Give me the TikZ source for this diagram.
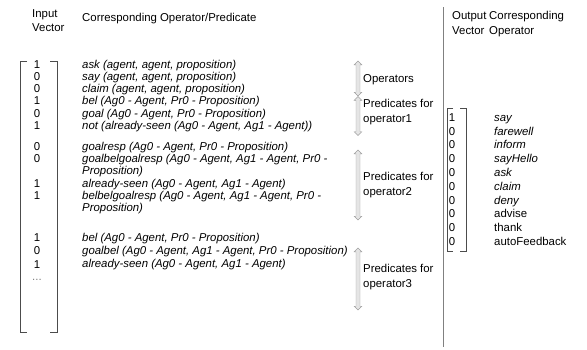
\documentclass[tikz,border=0pt]{standalone}
\usepackage{fontspec}
\setmainfont{Liberation Sans}
\usetikzlibrary{shapes.arrows}

\begin{document}
\begin{tikzpicture}[
    x=1pt, y=-1pt,
    every node/.style={
        inner sep=0pt,
        font=\fontsize{11.4}{14}\selectfont
    },
    head/.style={anchor=base west},
    num/.style={anchor=base},
    pred/.style={anchor=base west, font=\fontsize{11.4}{14}\selectfont\itshape},
    oplabel/.style={anchor=base west},
    updown/.style={
        double arrow, draw=gray!75, fill=gray!20,
        rotate=90, inner sep=1.8pt,
        double arrow head extend=1.8pt
    },
    vecbracket/.style={draw=black!70, line width=0.6pt}
]
\useasboundingbox (0,0) rectangle (587,349);

% headings
\node[head] (hinput) at (32,17) {Input};
\node[head] (hvector) at (32,31.5) {Vector};
\node[head] (hcorr) at (82,21.5) {Corresponding Operator/Predicate};
\node[head] (houtput) at (452,19.5) {Output};
\node[head] (hovector) at (452,34) {Vector};
\node[head] (hocorr) at (489,19.5) {Corresponding};
\node[head] (hoop) at (489,34) {Operator};

% input vector
\draw[vecbracket] (27,61) -- (20,61) -- (20,332) -- (27,332);
\draw[vecbracket] (50,61) -- (57,61) -- (57,332) -- (50,332);

\node[num] (i1) at (37,68.3) {1};
\node[num] (i2) at (37,80.5) {0};
\node[num] (i3) at (37,92.7) {0};
\node[num] (i4) at (37,104.9) {1};
\node[num] (i5) at (37,117.1) {0};
\node[num] (i6) at (37,129.3) {1};
\node[num] (i7) at (37,150.5) {0};
\node[num] (i8) at (37,162.7) {0};
\node[num] (i9) at (37,187.5) {1};
\node[num] (i10) at (37,199.7) {1};
\node[num] (i11) at (37,241.5) {1};
\node[num] (i12) at (37,254) {0};
\node[num] (i13) at (37,268) {1};
\node[num, text=gray] (idots) at (37,280) {...};

% operators and predicates
\node[pred] (p1) at (82,68.3) {ask (agent, agent, proposition)};
\node[pred] (p2) at (82,80.5) {say (agent, agent, proposition)};
\node[pred] (p3) at (82,92.7) {claim (agent, agent, proposition)};
\node[pred] (p4) at (82,104.9) {bel (Ag0 - Agent, Pr0 - Proposition)};
\node[pred] (p5) at (82,117.1) {goal (Ag0 - Agent, Pr0 - Proposition)};
\node[pred] (p6) at (82,129.3) {not (already-seen (Ag0 - Agent, Ag1 - Agent))};
\node[pred] (p7) at (82,150.5) {goalresp (Ag0 - Agent, Pr0 - Proposition)};
\node[pred] (p8) at (82,162.7) {goalbelgoalresp (Ag0 - Agent, Ag1 - Agent, Pr0 -};
\node[pred] (p8b) at (82,174.9) {Proposition)};
\node[pred] (p9) at (82,187.1) {already-seen (Ag0 - Agent, Ag1 - Agent)};
\node[pred] (p10) at (82,199.3) {belbelgoalresp (Ag0 - Agent, Ag1 - Agent, Pr0 -};
\node[pred] (p10b) at (82,211.5) {Proposition)};
\node[pred] (p11) at (82,241.5) {bel (Ag0 - Agent, Pr0 - Proposition)};
\node[pred] (p12) at (82,254) {goalbel (Ag0 - Agent, Ag1 - Agent, Pr0 - Proposition)};
\node[pred] (p13) at (82,267.5) {already-seen (Ag0 - Agent, Ag1 - Agent)};

% groups
\node[updown, minimum height=35pt] (g0) at (358,78.5) {};
\node[oplabel] (l0) at (363,82.5) {Operators};
\node[updown, minimum height=39pt] (g1) at (358,116) {};
\node[oplabel] (l1a) at (363,107.5) {Predicates for};
\node[oplabel] (l1b) at (363,122) {operator1};
\node[updown, minimum height=70pt] (g2) at (358,185) {};
\node[oplabel] (l2a) at (363,180.5) {Predicates for};
\node[oplabel] (l2b) at (363,195) {operator2};
\node[updown, minimum height=62pt] (g3) at (358,279) {};
\node[oplabel] (l3a) at (363,272.5) {Predicates for};
\node[oplabel] (l3b) at (363,287) {operator3};

% separator
\draw[gray, line width=0.6pt] (443,7) -- (443,347);

% output vector
\draw[vecbracket] (453,108) -- (447,108) -- (447,251) -- (453,251);
\draw[vecbracket] (460,108) -- (466,108) -- (466,251) -- (460,251);

\foreach \v [count=\k] in {1,0,0,0,0,0,0,0,0,0}
    \node[num] (o\k) at (452,{121.3+13.8*(\k-1)}) {\v};

\node[pred] (n1) at (494,121.3) {say};
\node[pred] (n2) at (494,135.1) {farewell};
\node[pred] (n3) at (494,148.9) {inform};
\node[pred] (n4) at (494,162.7) {sayHello};
\node[pred] (n5) at (494,176.5) {ask};
\node[pred] (n6) at (494,190.3) {claim};
\node[pred] (n7) at (494,204.1) {deny};
\node[head] (n8) at (494,217.9) {advise};
\node[head] (n9) at (494,231.7) {thank};
\node[head] (n10) at (494,245.5) {autoFeedback};
\end{tikzpicture}
\end{document}
